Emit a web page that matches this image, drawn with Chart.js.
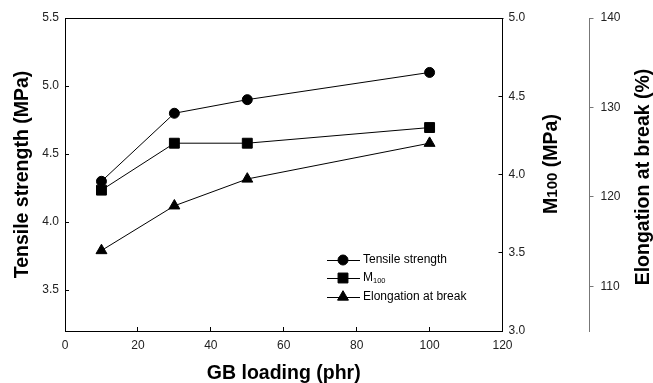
<!DOCTYPE html>
<html>
<head>
<meta charset="utf-8">
<script src="https://cdn.jsdelivr.net/npm/chart.js@4.4.1/dist/chart.umd.min.js"></script>
<style>
    html, body { margin: 0; padding: 0; background: #fff; }
    canvas { display: block; }
</style>
</head>
<body>
<canvas id="chart" width="653" height="383"></canvas>
<script>
const loading = [10, 30, 50, 100];
const tensileStrength = [4.3, 4.8, 4.9, 5.1];
const m100 = [3.9, 4.2, 4.2, 4.3];
const elongation = [114, 119, 122, 126];

const xTicks = [0, 20, 40, 60, 80, 100, 120];
const tensileTicks = [3.5, 4.0, 4.5, 5.0, 5.5];
const m100Ticks = [3.0, 3.5, 4.0, 4.5, 5.0];
const elongationTicks = [110, 120, 130, 140];

const FONT = "'Liberation Sans', Arial, Helvetica, sans-serif";
const TICK_COLOR = "#222";

function points(ys) {
    return loading.map((x, i) => ({ x: x, y: ys[i] }));
}

function fixedTicks(values) {
    return axis => {
        axis.ticks = values.map(v => ({ value: v }));
    };
}

function drawMarker(ctx, style, x, y, r) {
    ctx.beginPath();
    if (style === "circle") {
        ctx.arc(x, y, r, 0, Math.PI * 2);
    } else if (style === "rect") {
        const s = r * Math.SQRT1_2;
        ctx.rect(x - s, y - s, 2 * s, 2 * s);
    } else if (style === "triangle") {
        ctx.moveTo(x, y - r);
        ctx.lineTo(x + r * Math.sin(Math.PI * 2 / 3), y + r * 0.5);
        ctx.lineTo(x - r * Math.sin(Math.PI * 2 / 3), y + r * 0.5);
    }
    ctx.closePath();
    ctx.fill();
    ctx.stroke();
}

// main text + subscript + rest, left aligned at x, baseline middle
function drawSubText(ctx, parts, x, y, size, subSize, weight, subShift) {
    ctx.font = weight + " " + size + "px " + FONT;
    ctx.fillText(parts[0], x, y);
    x += ctx.measureText(parts[0]).width;
    ctx.font = weight + " " + subSize + "px " + FONT;
    ctx.fillText(parts[1], x, y + subShift);
    x += ctx.measureText(parts[1]).width;
    if (parts[2]) {
        ctx.font = weight + " " + size + "px " + FONT;
        ctx.fillText(parts[2], x, y);
    }
}

function subTextWidth(ctx, parts, size, subSize, weight) {
    ctx.font = weight + " " + size + "px " + FONT;
    let w = ctx.measureText(parts[0]).width + ctx.measureText(parts[2] || "").width;
    ctx.font = weight + " " + subSize + "px " + FONT;
    return w + ctx.measureText(parts[1]).width;
}

const extras = {
    id: "extras",
    afterDraw(chart) {
        const ctx = chart.ctx;
        const area = chart.chartArea;
        ctx.save();

        // top edge of the frame
        ctx.strokeStyle = "#000";
        ctx.lineWidth = 1;
        ctx.beginPath();
        ctx.moveTo(area.left, Math.round(area.top) + 0.5);
        ctx.lineTo(area.right + 1, Math.round(area.top) + 0.5);
        ctx.stroke();

        // right axis titles, reading bottom to top
        ctx.fillStyle = "#000";
        ctx.textBaseline = "middle";
        ctx.textAlign = "left";
        const mParts = ["M", "100", " (MPa)"];
        const mw = subTextWidth(ctx, mParts, 19.5, 15, "bold");
        ctx.save();
        ctx.translate(552, 164);
        ctx.rotate(-Math.PI / 2);
        drawSubText(ctx, mParts, -mw / 2, 0, 19.5, 15, "bold", 1);
        ctx.restore();

        ctx.save();
        ctx.translate(644, 177);
        ctx.rotate(-Math.PI / 2);
        ctx.font = "bold 19.5px " + FONT;
        ctx.textAlign = "center";
        ctx.fillText("Elongation at break (%)", 0, 0);
        ctx.restore();

        // legend
        const lx = area.left + 262;
        const rows = [area.bottom - 71, area.bottom - 53, area.bottom - 34];
        chart.data.datasets.forEach((ds, i) => {
            const y = rows[i];
            ctx.strokeStyle = ds.borderColor;
            ctx.fillStyle = ds.pointBackgroundColor;
            ctx.lineWidth = 1;
            ctx.beginPath();
            ctx.moveTo(lx, y + 0.5);
            ctx.lineTo(lx + 33, y + 0.5);
            ctx.stroke();
            drawMarker(ctx, ds.pointStyle, lx + 16, y, ds.pointRadius);
            ctx.fillStyle = "#000";
            ctx.textAlign = "left";
            if (ds.subscript) {
                drawSubText(ctx, [ds.label, ds.subscript], lx + 36, y, 12, 7.5, "normal", 3);
            } else {
                ctx.font = "12px " + FONT;
                ctx.fillText(ds.label, lx + 36, y);
            }
        });

        ctx.restore();
    }
};

const lineStyle = {
    borderColor: "#000",
    backgroundColor: "#000",
    pointBackgroundColor: "#000",
    pointBorderColor: "#000",
    borderWidth: 1,
    pointBorderWidth: 1,
    tension: 0
};

new Chart(document.getElementById("chart").getContext("2d"), {
    type: "line",
    data: {
        datasets: [
            Object.assign({
                label: "Tensile strength",
                data: points(tensileStrength),
                yAxisID: "y",
                pointStyle: "circle",
                pointRadius: 5
            }, lineStyle),
            Object.assign({
                label: "M",
                subscript: "100",
                data: points(m100),
                yAxisID: "yM",
                pointStyle: "rect",
                pointRadius: 7
            }, lineStyle),
            Object.assign({
                label: "Elongation at break",
                data: points(elongation),
                yAxisID: "yE",
                pointStyle: "triangle",
                pointRadius: 6.3
            }, lineStyle)
        ]
    },
    options: {
        responsive: false,
        animation: false,
        layout: { padding: { top: 18, left: 0, right: 0, bottom: 0 } },
        plugins: {
            legend: { display: false },
            tooltip: { enabled: false }
        },
        scales: {
            x: {
                type: "linear",
                position: "bottom",
                min: 0,
                max: 120,
                afterBuildTicks: fixedTicks(xTicks),
                afterFit: scale => { scale.height = 52; },
                grid: { drawOnChartArea: false, tickLength: -4, color: "#000" },
                border: { color: "#000", width: 1 },
                ticks: { padding: 11, color: TICK_COLOR, font: { family: FONT, size: 12 } },
                title: {
                    display: true,
                    text: "GB loading (phr)",
                    color: "#000",
                    padding: 0,
                    font: { family: FONT, size: 19.5, weight: "bold", lineHeight: 1 }
                }
            },
            y: {
                position: "left",
                min: 3.2,
                max: 5.5,
                afterBuildTicks: fixedTicks(tensileTicks),
                afterFit: scale => { scale.width = 65; },
                grid: { drawOnChartArea: false, tickLength: -4, color: "#000" },
                border: { color: "#000", width: 1 },
                ticks: {
                    padding: 10,
                    color: TICK_COLOR,
                    font: { family: FONT, size: 12 },
                    callback: v => v.toFixed(1)
                },
                title: {
                    display: true,
                    text: "Tensile strength (MPa)",
                    color: "#000",
                    padding: { top: 13 },
                    font: { family: FONT, size: 19.5, weight: "bold", lineHeight: 1 }
                }
            },
            yM: {
                position: "right",
                weight: 0,
                min: 3.0,
                max: 5.0,
                afterBuildTicks: fixedTicks(m100Ticks),
                afterFit: scale => { scale.width = 87; },
                grid: { drawOnChartArea: false, tickLength: -4, color: "#000" },
                border: { color: "#000", width: 1 },
                ticks: {
                    padding: 10,
                    color: TICK_COLOR,
                    font: { family: FONT, size: 12 },
                    callback: v => v.toFixed(1)
                }
            },
            yE: {
                position: "right",
                weight: 1,
                min: 105,
                max: 140,
                afterBuildTicks: fixedTicks(elongationTicks),
                afterFit: scale => { scale.width = 63.5; },
                grid: { drawOnChartArea: false, tickLength: 4, color: "#777" },
                border: { color: "#777", width: 1 },
                ticks: { padding: 7, color: TICK_COLOR, font: { family: FONT, size: 12 } }
            }
        }
    },
    plugins: [extras]
});
</script>
</body>
</html>
